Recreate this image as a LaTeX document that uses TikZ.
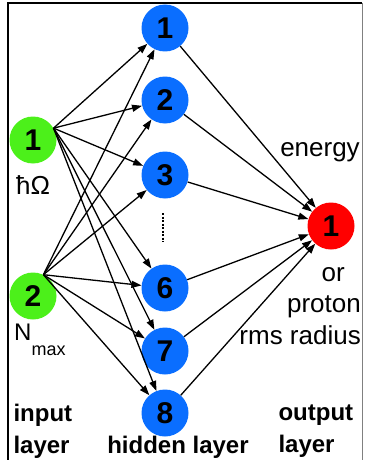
\documentclass[tikz,border=0pt]{standalone}
\usepackage{fontspec}
\setmainfont{Liberation Sans}
\usetikzlibrary{arrows.meta}
\definecolor{ingreen}{RGB}{76,240,26}
\definecolor{hidblue}{RGB}{10,110,255}
\definecolor{outred}{RGB}{255,0,0}

\begin{document}
\begin{tikzpicture}[x=1pt,y=-1pt,
    neuron/.style={circle,minimum size=47pt,inner sep=0pt,font=\fontsize{30}{30}\selectfont\bfseries},
    inneuron/.style={neuron,fill=ingreen},
    hidneuron/.style={neuron,fill=hidblue},
    outneuron/.style={neuron,fill=outred},
    link/.style={line width=1.3pt,-{Triangle[length=10pt,width=7pt]}},
    txt/.style={font=\fontsize{26}{31.5}\selectfont},
    lbl/.style={font=\fontsize{24}{32}\selectfont\bfseries}]
    \useasboundingbox (0,0) rectangle (364,460);
    % Frame
    \draw[line width=2.2pt] (8,460) -- (8,3) -- (362,3);
    \draw[gray, line width=1pt] (362,3) -- (362,460);
    % Input layer
    \node[inneuron] (in1) at (33,140) {1};
    \node[inneuron] (in2) at (33,296) {2};
    \node[txt] (hbar) at (33,185) {ħΩ};
    \node[font=\fontsize{24}{24}\selectfont, anchor=west, inner sep=0pt] (nmax) at (14,340) {N\raisebox{-15pt}{\fontsize{18}{18}\selectfont max}};
    % Hidden layer
    \foreach \n/\y in {1/28,2/100,3/175,6/288,7/351,8/413}
        \node[hidneuron] (h\n) at (165,\y) {\n};
    \draw[line width=2pt, dash pattern=on 2pt off 1.5pt] (163,213) -- (163,242);
    % Output layer
    \node[outneuron] (out) at (331,226) {1};
    \node[txt, inner sep=0pt] (energy) at (320,152) {energy};
    \node[txt, align=right, anchor=east, inner sep=0pt] (radius) at (361,306) {or\hspace*{16pt}\\proton\\rms radius};
    % Connections
    \foreach \n in {1,2,3,6,7,8} {
        \draw[link] (in1.30) -- (h\n);
        \draw[link] (in2.64) -- (h\n);
        \draw[link] (h\n) -- (out);
    }
    % Layer names
    \node[lbl, align=left, anchor=west] (inname) at (10,431) {input\\layer};
    \node[lbl] (hidname) at (178,447) {hidden layer};
    \node[lbl, align=left, anchor=west] (outname) at (275,431) {output\\layer};
\end{tikzpicture}
\end{document}
